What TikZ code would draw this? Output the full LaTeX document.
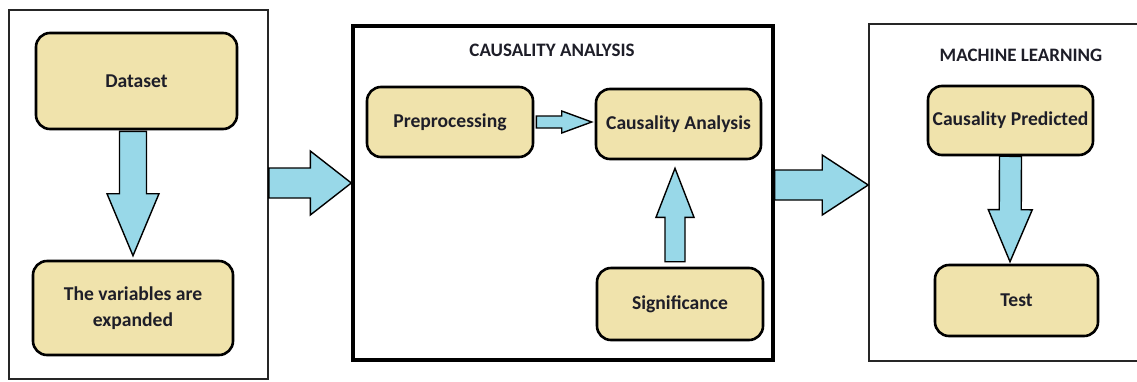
\documentclass[tikz,border=0pt]{standalone}
\usepackage{fontspec}
\setmainfont{Carlito}
\usetikzlibrary{calc}
\definecolor{boxtan}{RGB}{240,227,172}
\definecolor{arrblue}{RGB}{152,216,232}
\definecolor{txt}{RGB}{30,30,40}
\tikzset{
  panel/.style={draw, rectangle, inner sep=0pt},
  stepbox/.style={draw=black, fill=boxtan, line width=2.6pt, rounded corners=14pt,
    inner sep=2pt, align=center, text=txt,
    font=\bfseries\fontsize{19.6}{26.5}\selectfont},
  paneltitle/.style={text=txt, font=\fontsize{19}{22}\selectfont\bfseries},
  blockarrow/.style n args={3}{draw=black, fill=arrblue, line width=1.4pt, line join=miter,
    to path={
      ($(\tikztotarget)!#3!(\tikztostart)$) coordinate (ba-h)
      ($(\tikztostart)!#1!90:(\tikztotarget)$)
      -- ($(ba-h)!#1!90:(\tikztotarget)$)
      -- ($(ba-h)!#2!90:(\tikztotarget)$)
      -- (\tikztotarget)
      -- ($(ba-h)!#2!-90:(\tikztotarget)$)
      -- ($(ba-h)!#1!-90:(\tikztotarget)$)
      -- ($(\tikztostart)!#1!-90:(\tikztotarget)$)
      -- cycle}}
}
\begin{document}
\begin{tikzpicture}[x=1pt,y=-1pt]
\clip (0,0) rectangle (1137,381);
\fill[white] (0,0) rectangle (1137,381);

% panels
\node[panel, draw=black!85, line width=1.6pt, minimum width=259pt, minimum height=369pt] (p1) at (138.5,194.5) {};
\node[panel, draw=black, line width=3.4pt, minimum width=420pt, minimum height=334pt] (p2) at (563,193) {};
\node[panel, draw=black!85, line width=1.6pt, minimum width=290pt, minimum height=337pt] (p3) at (1014,192.5) {};

% titles
\node[paneltitle] (t2) at (552,50) {CAUSALITY ANALYSIS};
\node[paneltitle] (t3) at (1021,55) {MACHINE LEARNING};

% boxes
\node[stepbox, minimum width=201pt, minimum height=96pt] (d) at (136.5,81) {Dataset};
\node[stepbox, minimum width=200pt, minimum height=94pt] (v) at (133,308) {\raisebox{-4pt}{The variables are}\\\raisebox{-4pt}{expanded}};
\node[stepbox, minimum width=166pt, minimum height=70pt] (pre) at (450,122) {Preprocessing};
\node[stepbox, minimum width=165pt, minimum height=70pt] (ca) at (678.5,124) {Causality Analysis};
\node[stepbox, minimum width=166pt, minimum height=72pt] (sig) at (680,304) {Significance};
\node[stepbox, minimum width=165pt, minimum height=69pt, inner sep=0pt] (cp) at (1010.5,120.5) {Causality Predicted};
\node[stepbox, minimum width=163pt, minimum height=71pt] (test) at (1016.5,300.5) {Test};

% connector end points
\coordinate (a1s) at ($(d.south)+(-3.5,1)$);
\coordinate (a1e) at ($(v.north)+(0,-4)$);
\coordinate (a2s) at ($(p1.east)+(0,-11.5)$);
\coordinate (a2e) at ($(p2.west)+(0,-10)$);
\coordinate (a3s) at ($(pre.east)+(2,0)$);
\coordinate (a3e) at ($(ca.west)+(-3,-2)$);
\coordinate (a4s) at ($(sig.north)+(-5,-5)$);
\coordinate (a4e) at ($(ca.south)+(-3.5,8)$);
\coordinate (a5s) at ($(p2.east)+(0,-8)$);
\coordinate (a5e) at ($(p3.west)+(0,-7.5)$);
\coordinate (a6s) at ($(cp.south)+(0,0)$);
\coordinate (a6e) at ($(test.north)+(-6.5,-2)$);

% block arrows
\draw[blockarrow={13.5pt}{26pt}{62pt}] (a1s) to (a1e);
\draw[blockarrow={15pt}{32pt}{41pt}] (a2s) to (a2e);
\draw[blockarrow={6pt}{11pt}{30pt}] (a3s) to (a3e);
\draw[blockarrow={10pt}{19pt}{49pt}] (a4s) to (a4e);
\draw[blockarrow={15pt}{30pt}{46pt}] (a5s) to (a5e);
\draw[blockarrow={11pt}{22pt}{52pt}] (a6s) to (a6e);
\end{tikzpicture}
\end{document}
